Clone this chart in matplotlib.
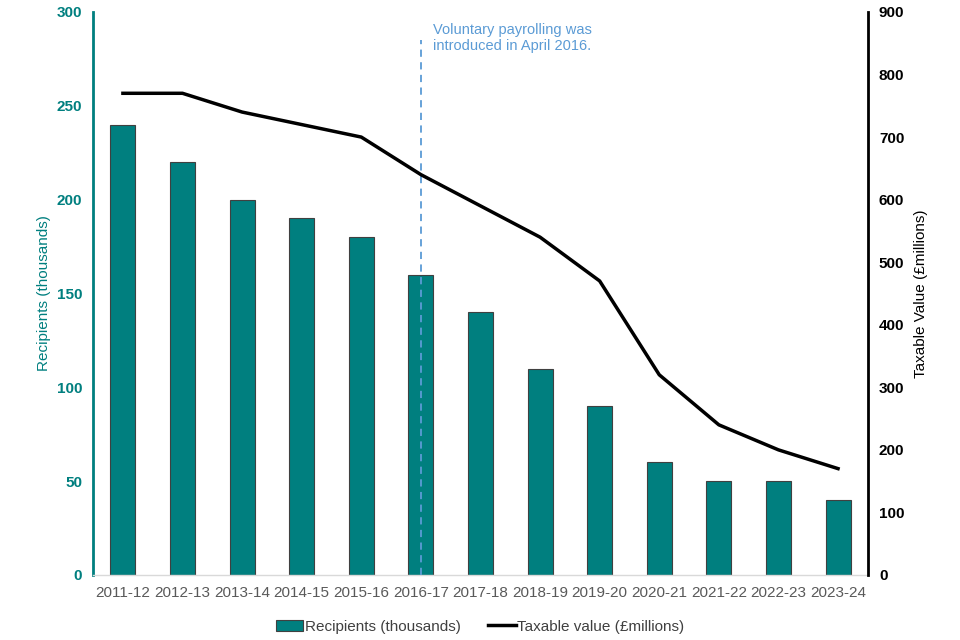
import matplotlib.pyplot as plt
import numpy as np

plt.rcParams['font.family'] = ['Liberation Sans', 'DejaVu Sans']

years = ['2011-12', '2012-13', '2013-14', '2014-15', '2015-16', '2016-17', '2017-18',
         '2018-19', '2019-20', '2020-21', '2021-22', '2022-23', '2023-24']
recipients = [240, 220, 200, 190, 180, 160, 140, 110, 90, 60, 50, 50, 40]
taxable_value = [770, 770, 740, 720, 700, 640, 590, 540, 470, 320, 240, 200, 170]

teal = '#007F7F'
x = np.arange(len(years))

fig = plt.figure(figsize=(9.6, 6.4), dpi=100)
ax = fig.add_axes([0.097, 0.1016, 0.807, 0.8797])
ax2 = ax.twinx()

bars = ax.bar(x, recipients, width=0.42, color=teal, edgecolor='#404040', linewidth=0.8,
              label='Recipients (thousands)', zorder=2)
line, = ax2.plot(x, taxable_value, color='black', linewidth=2.5, label='Taxable value (£millions)')

# payrolling marker
ax.plot([5, 5], [0, 285], color='#5B9BD5', linestyle=(0, (4, 3)), linewidth=1.3, zorder=3)
ax.text(5.2, 294, 'Voluntary payrolling was\nintroduced in April 2016.', color='#5B9BD5',
        fontsize=10.5, va='top', ha='left', linespacing=1.2)

ax.set_xlim(-0.5, len(years) - 0.5)
ax.set_ylim(0, 300)
ax2.set_ylim(0, 900)
ax.set_yticks(range(0, 301, 50))
ax2.set_yticks(range(0, 901, 100))
ax.set_xticks(x)
ax.set_xticklabels(years, color='#595959', fontsize=11)

ax.tick_params(axis='x', length=0, pad=8)
ax.tick_params(axis='y', length=0, colors=teal, labelsize=11, pad=8)
ax2.tick_params(axis='y', length=0, colors='black', labelsize=11, pad=8)
for lab in ax.get_yticklabels():
    lab.set_fontweight('bold')
for lab in ax2.get_yticklabels():
    lab.set_fontweight('bold')

for a in (ax, ax2):
    a.spines['top'].set_visible(False)
ax.spines['right'].set_visible(False)
ax.spines['left'].set_color(teal)
ax.spines['left'].set_linewidth(2)
ax2.spines['left'].set_visible(False)
ax2.spines['bottom'].set_visible(False)
ax2.spines['right'].set_color('black')
ax2.spines['right'].set_linewidth(2)
ax.spines['bottom'].set_color('#D9D9D9')
ax.spines['bottom'].set_linewidth(1)

ax.set_ylabel('Recipients (thousands)', color=teal, fontsize=11, labelpad=4)
ax2.set_ylabel('Taxable Value (£millions)', color='black', fontsize=11, labelpad=7)

fig.legend(handles=[bars, line], loc='center', bbox_to_anchor=(0.5, 0.021), ncol=2,
           frameon=False, fontsize=11, handlelength=1.8, handletextpad=0.1, columnspacing=1.8,
           labelcolor='#404040')

fig.savefig('out.png', dpi=100)
